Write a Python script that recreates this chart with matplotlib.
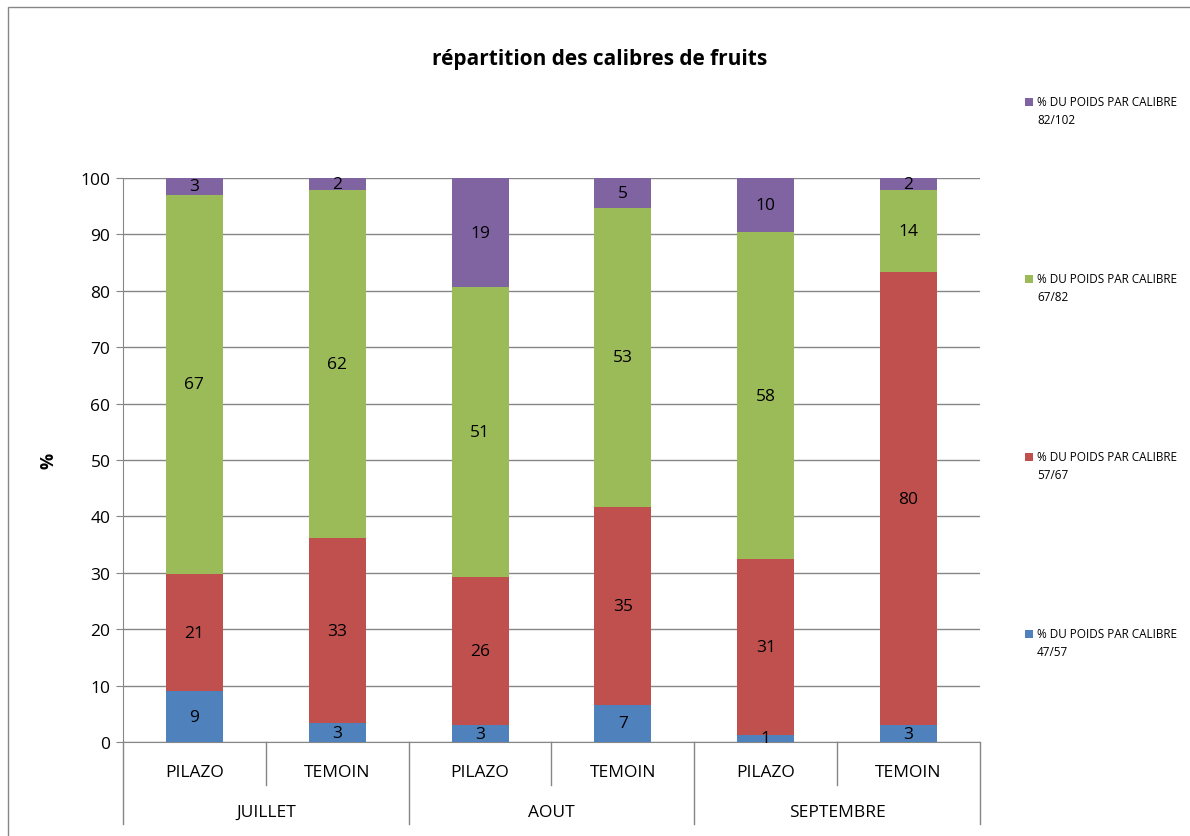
import matplotlib
matplotlib.use("Agg")
import matplotlib.pyplot as plt
from matplotlib.patches import Rectangle
import numpy as np

plt.rcParams['font.family'] = ['Open Sans', 'DejaVu Sans']

groups = ["JUILLET", "AOUT", "SEPTEMBRE"]
subcats = ["PILAZO", "TEMOIN", "PILAZO", "TEMOIN", "PILAZO", "TEMOIN"]
series_names = ["% DU POIDS PAR CALIBRE\n47/57", "% DU POIDS PAR CALIBRE\n57/67",
                "% DU POIDS PAR CALIBRE\n67/82", "% DU POIDS PAR CALIBRE\n82/102"]
cal_47_57 = [9.0, 3.3, 3.0, 6.6, 1.3, 3.0]
cal_57_67 = [20.8, 32.8, 26.3, 35.1, 31.1, 80.3]
cal_67_82 = [67.2, 61.8, 51.3, 53.0, 58.0, 14.5]
cal_82_102 = [3.0, 2.1, 19.4, 5.3, 9.6, 2.2]
colors = ["#4F81BD", "#C0504D", "#9BBB59", "#8064A2"]

W, H = 1190, 837
fig = plt.figure(figsize=(W / 100, H / 100), dpi=100)
ax = fig.add_axes([123 / W, 1 - 743 / H, (980 - 123) / W, (743 - 179) / H])

x = np.arange(len(subcats))
bottom = np.zeros(len(subcats))
for vals, col, name in zip([cal_47_57, cal_57_67, cal_67_82, cal_82_102], colors, series_names):
    vals = np.array(vals)
    ax.bar(x, vals, width=0.4, bottom=bottom, color=col, edgecolor='none', label=name, zorder=3)
    for xi, v, bt in zip(x, vals, bottom):
        ax.text(xi, bt + v / 2, f"{v:.0f}", ha='center', va='center', fontsize=12.5, color='black', zorder=4)
    bottom += vals

ax.set_xlim(-0.5, 5.5)
ax.set_ylim(0, 100)
ax.set_yticks(np.arange(0, 101, 10))
ax.tick_params(axis='y', labelsize=12.5, length=5, color='#868686', pad=4)
ax.tick_params(axis='x', bottom=False, labelbottom=False)
ax.yaxis.grid(True, color='#868686', linewidth=1.0, zorder=0)
ax.set_axisbelow(True)
for s in ['top', 'right']:
    ax.spines[s].set_visible(False)
ax.spines['left'].set_color('#868686')
ax.spines['bottom'].set_color('#868686')
fig.text(48 / W, 1 - 461 / H, '%', rotation=90, ha='center', va='center', fontsize=13, fontweight='bold')

# multi-level category axis
trans = ax.get_xaxis_transform()
ph = 743 - 179
inner = 43 / ph
outer = 82 / ph
for i, bnd in enumerate(np.arange(-0.5, 6.0, 1.0)):
    length = outer if i % 2 == 0 else inner
    ax.plot([bnd, bnd], [0, -length], transform=trans, color='#868686', lw=1.0, clip_on=False)
for xi, lab in zip(x, subcats):
    ax.text(xi, -30 / ph, lab, transform=trans, ha='center', va='center', fontsize=12.5)
for gi, g in enumerate(groups):
    ax.text(2 * gi + 0.5, -70 / ph, g, transform=trans, ha='center', va='center', fontsize=12.5)

fig.text(600 / W, 1 - 60 / H, "répartition des calibres de fruits", ha='center', va='center',
         fontsize=15, fontweight='bold')

# legend (manual placement like original)
leg_y = [635, 458, 280, 103]
for col, name, yy in zip(colors, series_names, leg_y):
    fig.patches.append(Rectangle((1025 / W, 1 - (yy + 4) / H), 8 / W, 8 / H, transform=fig.transFigure,
                                 facecolor=col, edgecolor='none'))
    fig.text(1037 / W, 1 - (yy - 7) / H, name, ha='left', va='top', fontsize=8.5, linespacing=1.5)

# chart border
fig.patches.append(Rectangle((8 / W, -0.1), 1.2, 1 - 8 / H + 0.1, transform=fig.transFigure,
                             facecolor='none', edgecolor='#868686', lw=1.0))

fig.savefig("out.png", dpi=100)
